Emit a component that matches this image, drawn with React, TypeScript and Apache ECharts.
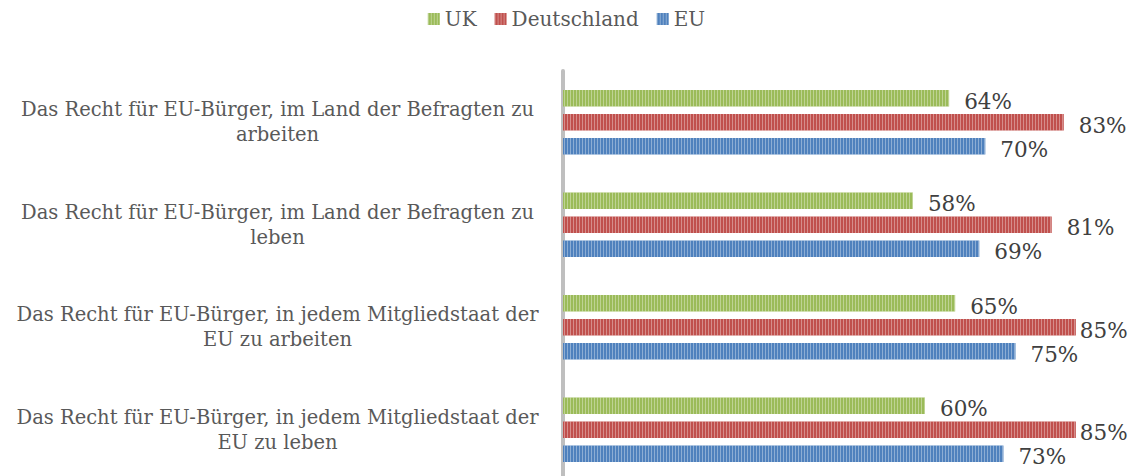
import React, { useEffect, useRef } from "react";
import * as echarts from "echarts";

const categories = [
  "Das Recht für EU-Bürger, im Land der Befragten zu\narbeiten",
  "Das Recht für EU-Bürger, im Land der Befragten zu\nleben",
  "Das Recht für EU-Bürger, in jedem Mitgliedstaat der\nEU zu arbeiten",
  "Das Recht für EU-Bürger, in jedem Mitgliedstaat der\nEU zu leben",
];
const seriesNames = ["UK", "Deutschland", "EU"];
const ukValues = [64, 58, 65, 60];
const deValues = [83, 81, 85, 85];
const euValues = [70, 69, 75, 73];
const colors = ["#9bbb59", "#c0504d", "#4f81bd"];

const FONT = "DejaVu Serif";
const AXIS_MAX = 90;

export default function App() {
  const ref = useRef<HTMLDivElement>(null);
  useEffect(() => {
    const chart = echarts.init(ref.current!, null, { renderer: "svg" });
    const decal = {
      symbol: "rect",
      symbolSize: 1,
      color: "rgba(255,255,255,0.35)",
      dashArrayX: [1, 2],
      dashArrayY: [4, 0],
      rotation: 0,
    };
    const values = [ukValues, deValues, euValues];
    chart.setOption({
      animation: false,
      color: colors,
      legend: {
        top: 4,
        left: "center",
        itemWidth: 12,
        itemHeight: 12,
        itemGap: 18,
        icon: "rect",
        textStyle: { fontFamily: FONT, fontSize: 20, color: "#595959" },
        data: seriesNames,
      },
      grid: {
        left: 563,
        top: 71,
        width: 543,
        height: 410,
        containLabel: false,
        outerBoundsMode: "none",
      },
      xAxis: {
        type: "value",
        min: 0,
        max: AXIS_MAX,
        show: false,
      },
      yAxis: {
        type: "category",
        inverse: true,
        offset: 2.5,
        data: categories,
        axisLine: { show: true, lineStyle: { color: "#bfbfbf", width: 4 } },
        axisTick: { show: false },
        axisLabel: {
          align: "center",
          margin: 283,
          fontFamily: FONT,
          fontSize: 19.5,
          lineHeight: 25,
          color: "#595959",
        },
      },
      series: seriesNames.map((name, i) => ({
        name,
        type: "bar",
        data: values[i].map((v) =>
          v >= 84 ? { value: v, label: { distance: 4 } } : v
        ),
        barWidth: 16.5,
        barGap: "45%",
        barCategoryGap: "37%",
        itemStyle: { color: colors[i], decal },
        label: {
          show: true,
          position: "right",
          distance: 15,
          formatter: "{c}%",
          offset: [0, 3],
          fontFamily: FONT,
          fontSize: 21.5,
          color: "#404040",
        },
      })),
    });
    return () => chart.dispose();
  }, []);
  return (
    <div
      ref={ref}
      style={{ position: "absolute", left: 0, top: 0, width: 1133, height: 476 }}
    />
  );
}
